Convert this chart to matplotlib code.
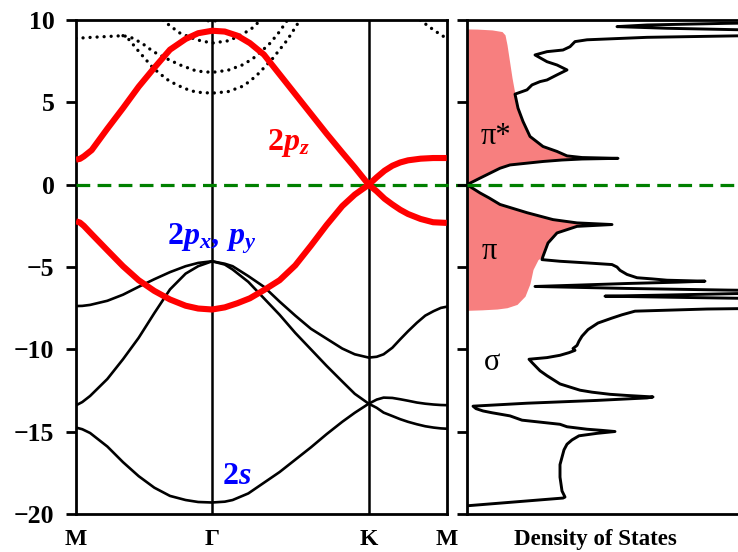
import matplotlib
matplotlib.use('Agg')
import matplotlib.pyplot as plt

plt.rcParams['font.family'] = ['Liberation Serif', 'DejaVu Serif']
plt.rcParams['mathtext.fontset'] = 'custom'
plt.rcParams['mathtext.rm'] = 'Liberation Serif:bold'
plt.rcParams['mathtext.it'] = 'Liberation Serif:bold:italic'
plt.rcParams['mathtext.bf'] = 'Liberation Serif:bold'

# high-symmetry points along the path
sym_pos = [0.0, 0.869, 1.869, 2.367]
sym_labels = ['M', 'Γ', 'K', 'M']
y_ticks = [10, 5, 0, -5, -10, -15, -20]

# pi bands (red)
pistar_k = [0, 0.025, 0.05, 0.1, 0.2, 0.3, 0.4, 0.5, 0.6, 0.7, 0.78, 0.869, 0.95, 1.03, 1.11, 1.2,
            1.3, 1.4, 1.5, 1.6, 1.7, 1.78, 1.869, 1.92, 1.97, 2.02, 2.07, 2.12, 2.2, 2.28, 2.367]
pistar_e = [1.52, 1.57, 1.72, 2.1, 3.4, 4.65, 5.95, 7.1, 8.2, 8.85, 9.2, 9.35, 9.3, 9.05, 8.6, 7.9,
            6.7, 5.5, 4.3, 3.1, 1.95, 1.05, 0.0, 0.45, 0.85, 1.15, 1.35, 1.48, 1.58, 1.62, 1.62]
pi_k = pistar_k
pi_e = [-2.22, -2.3, -2.5, -3.0, -3.98, -4.95, -5.8, -6.45, -6.97, -7.35, -7.52, -7.58, -7.45, -7.2,
        -6.9, -6.4, -5.8, -4.9, -3.7, -2.45, -1.3, -0.6, 0.0, -0.4, -0.85, -1.2, -1.52, -1.78,
        -2.08, -2.28, -2.32]

# sigma bands (black)
sig_k = [0, 0.04, 0.09, 0.2, 0.3, 0.4, 0.5, 0.6, 0.7, 0.78, 0.869, 0.95, 1.0, 1.1, 1.2, 1.3, 1.4,
         1.5, 1.6, 1.7, 1.78, 1.869, 1.92, 1.964, 2.02, 2.07, 2.12, 2.177, 2.23, 2.283, 2.33, 2.367]
sig1_e = [-7.37, -7.36, -7.3, -7.05, -6.68, -6.2, -5.74, -5.31, -4.95, -4.75, -4.65, -4.8, -4.95,
          -5.55, -6.2, -7.1, -7.95, -8.75, -9.35, -9.95, -10.3, -10.5, -10.45, -10.3, -9.9, -9.39,
          -8.9, -8.38, -7.95, -7.68, -7.48, -7.41]
sig2_e = [-13.4, -13.2, -12.83, -11.8, -10.6, -9.3, -7.8, -6.36, -5.4, -4.95, -4.65, -4.85, -5.15,
          -5.9, -6.9, -7.9, -9.0, -10.0, -11.0, -11.95, -12.7, -13.3, -13.05, -12.93, -12.95,
          -13.03, -13.12, -13.23, -13.3, -13.35, -13.38, -13.39]
sig3_e = [-14.75, -14.85, -15.08, -15.9, -16.85, -17.7, -18.4, -18.9, -19.15, -19.27, -19.3, -19.25,
          -19.15, -18.75, -18.1, -17.45, -16.7, -15.95, -15.15, -14.4, -13.85, -13.3, -13.55,
          -13.84, -14.05, -14.24, -14.4, -14.55, -14.67, -14.75, -14.8, -14.82]

# unoccupied sigma* bands (dotted)
dmid_k = [0, 0.1, 0.2, 0.3, 0.35, 0.42, 0.494, 0.58, 0.665, 0.77, 0.869, 0.97, 1.07, 1.15, 1.24, 1.3, 1.35]
dmid_e = [8.89, 8.95, 9.0, 9.05, 8.95, 8.6, 8.08, 7.65, 7.27, 6.9, 6.82, 6.95, 7.3, 7.8, 8.6, 9.3, 10.0]
dlow_k = [0.3, 0.34, 0.4, 0.494, 0.58, 0.643, 0.72, 0.77, 0.869, 0.97, 1.07, 1.15, 1.25, 1.35, 1.43]
dlow_e = [9.05, 8.8, 8.1, 7.07, 6.4, 6.06, 5.75, 5.62, 5.56, 5.65, 6.0, 6.6, 7.6, 8.8, 10.0]
dtop_k = [0.556, 0.6, 0.665, 0.77, 0.869, 0.98, 1.05, 1.112, 1.18]
dtop_e = [10.0, 9.65, 9.2, 8.8, 8.6, 8.75, 9.1, 9.4, 10.0]
dgam_k = [0.8, 0.84, 0.869, 0.9, 0.94]
dgam_e = [10.05, 9.96, 9.93, 9.96, 10.05]
dend_k = [2.198, 2.24, 2.283, 2.33, 2.367]
dend_e = [10.0, 9.7, 9.4, 9.1, 8.89]

# total density of states
dos_e = [-19.5, -19.03, -18.97, -18.6, -17.76, -17.0, -16.55, -16.1, -15.76, -15.5, -15.25, -15.1,
         -14.99, -14.92, -14.85, -14.7, -14.55, -14.3, -14.04, -13.85, -13.74, -13.6, -13.45, -13.27,
         -13.1, -12.95, -12.89, -12.8, -12.73, -12.6, -12.48, -12.1, -11.6, -11.3, -10.8, -10.6,
         -10.5, -10.36, -10.2, -10.06, -9.95, -9.76, -9.5, -9.2, -8.8, -8.4, -8.1, -7.9, -7.68,
         -7.55, -7.47, -6.97, -6.85, -6.77, -6.7, -6.6, -6.47, -6.4, -6.3, -6.18, -6.1, -6.0, -5.92,
         -5.86, -5.8, -5.72, -5.65, -5.45, -5.2, -5.0, -4.85, -4.75, -4.65, -4.55, -4.35, -3.54,
         -2.93, -2.53, -2.42, -2.32, -2.12, -1.7, -1.2, -0.8, -0.5, 0.0, 0.4, 1.0, 1.2, 1.41, 1.5,
         1.56, 1.6, 1.65, 1.75, 2.02, 2.32, 2.93, 3.84, 4.65, 5.5, 5.76, 6.06, 6.26, 6.36, 6.67,
         6.97, 7.27, 7.47, 7.88, 8.08, 8.18, 8.38, 8.69, 8.8, 8.95, 9.05, 9.15, 9.3, 9.4, 9.5, 9.6,
         9.7, 9.8, 9.88, 10.2]
dos_v = [0.0, 0.96, 0.98, 0.95, 0.93, 0.93, 0.95, 0.97, 1.0, 1.05, 1.12, 1.3,
         1.48, 1.35, 1.2, 1.0, 0.93, 0.55, 0.43, 0.25, 0.16, 0.09, 0.06, 0.6,
         1.3, 1.8, 1.86, 1.6, 1.43, 1.25, 1.13, 0.93, 0.8, 0.73, 0.65, 0.62,
         0.8, 0.93, 1.02, 1.08, 1.06, 1.1, 1.12, 1.15, 1.21, 1.31, 1.45, 1.55, 1.68,
         2.4, 3.5, 3.5, 2.2, 1.38, 2.0, 2.8, 3.5, 2.6, 1.6, 0.68, 1.1, 1.6, 2.1,
         2.38, 2.0, 1.85, 1.7, 1.6, 1.53, 1.5, 1.45, 1.2, 0.93, 0.75, 0.76, 0.81,
         0.9, 1.1, 1.45, 1.1, 0.86, 0.6, 0.33, 0.22, 0.13, 0.0, 0.13, 0.33, 0.43, 0.76, 0.95,
         1.15, 1.51, 1.15, 1.0, 0.9, 0.76, 0.63, 0.56, 0.51, 0.48, 0.6, 0.65, 0.73, 0.8, 0.9,
         1.0, 0.9, 0.8, 0.68, 0.8, 0.96, 1.03, 1.08, 1.2, 1.8, 2.8, 3.6, 3.6, 2.8, 2.0, 1.5,
         1.8, 2.6, 3.6, 3.6]

# pi projected density of states (shaded)
pdos_e = [-7.63, -7.6, -7.55, -7.47, -7.27, -6.77, -6.0, -5.15, -4.55, -4.35, -3.54, -2.93, -2.53,
          -2.42, -2.32, -2.12, -1.7, -1.2, -0.8, -0.5, 0.0, 0.4, 1.0, 1.2, 1.41, 1.5, 1.56, 1.6,
          1.65, 1.75, 2.02, 2.32, 2.93, 3.84, 4.65, 5.5, 6.5, 7.3, 8.5, 9.1, 9.3, 9.4, 9.45, 9.46]
pdos_v = [0.0, 0.15, 0.3, 0.4, 0.5, 0.58, 0.63, 0.66, 0.71, 0.76, 0.81, 0.9, 1.1,
          1.45, 1.1, 0.86, 0.6, 0.33, 0.22, 0.13, 0.0, 0.13, 0.33, 0.43, 0.76, 0.95, 1.15, 1.51,
          1.15, 1.0, 0.9, 0.76, 0.63, 0.56, 0.51, 0.48, 0.45, 0.43, 0.4, 0.38, 0.35, 0.25, 0.1, 0.0]


def style_axis(ax):
    for s in ax.spines.values():
        s.set_linewidth(2.0)
    ax.set_ylim(-20, 10)
    ax.set_yticks(y_ticks)
    ax.tick_params(axis='y', direction='out', length=7.5, width=2.0, left=True, right=False)


def main():
    fig = plt.figure(figsize=(7.38, 5.52), dpi=100)
    ax1 = fig.add_axes([0.103, 0.0688, 0.5023, 0.8949])
    ax2 = fig.add_axes([0.6328, 0.0688, 0.397, 0.8949])

    style_axis(ax1)
    ax1.set_xlim(0, sym_pos[-1])
    ax1.set_xticks(sym_pos)
    ax1.set_xticklabels(sym_labels, fontsize=17, fontweight='bold')
    ax1.tick_params(axis='x', length=0, pad=11)
    ax1.set_yticklabels([str(t).replace('-', '\u2212') for t in y_ticks], fontsize=18.5, fontweight='bold')
    ax1.tick_params(axis='y', pad=8)
    for x in sym_pos[1:3]:
        ax1.axvline(x, color='black', lw=1.8, zorder=1)

    for e in (sig1_e, sig2_e, sig3_e):
        ax1.plot(sig_k, e, color='black', lw=1.9, zorder=2)
    dot = dict(color='black', lw=2.4, linestyle=(0, (0.01, 2.1)), dash_capstyle='round', zorder=2)
    ax1.plot(dmid_k, dmid_e, **dot)
    ax1.plot(dlow_k, dlow_e, **dot)
    ax1.plot(dtop_k, dtop_e, **dot)
    ax1.plot(dgam_k, dgam_e, **dot)
    ax1.plot(dend_k, dend_e, **dot)

    ax1.axhline(0, xmin=0, xmax=1.055, color='green', lw=2.3, dashes=(4.3, 2.3), clip_on=False, zorder=3)
    ax1.plot(pistar_k, pistar_e, color='red', lw=4.4, zorder=4, solid_capstyle='butt')
    ax1.plot(pi_k, pi_e, color='red', lw=4.4, zorder=4, solid_capstyle='butt')

    ax1.text(1.22, 2.1, r'$2p_z$', color='red', fontsize=23, va='baseline', ha='left')
    ax1.text(0.58, -3.64, r'$2p_x,\,p_y$', color='blue', fontsize=23, va='baseline', ha='left')
    ax1.text(0.933, -18.2, r'$2s$', color='blue', fontsize=23, va='baseline', ha='left')

    style_axis(ax2)
    ax2.set_xlim(0, 2.93)
    ax2.set_xticks([])
    ax2.set_yticklabels([])
    ax2.fill_betweenx(pdos_e, 0, pdos_v, color='#f77f7f', lw=0, zorder=1)
    ax2.plot(dos_v, dos_e, color='black', lw=2.1, zorder=2)
    ax2.axhline(0, color='green', lw=2.3, dashes=(4.3, 2.3), zorder=3)
    ax2.text(0.29, 2.9, 'π*', fontsize=22, ha='center', va='center')
    ax2.text(0.22, -4.06, 'π', fontsize=22, ha='center', va='center')
    ax2.text(0.25, -10.8, 'σ', fontsize=22, ha='center', va='center')

    fig.text(595 / 738, 1 - 540 / 552, 'Density of States', fontsize=16.5, fontweight='bold',
             ha='center', va='center')

    fig.savefig('out.png', dpi=100)


if __name__ == '__main__':
    main()
